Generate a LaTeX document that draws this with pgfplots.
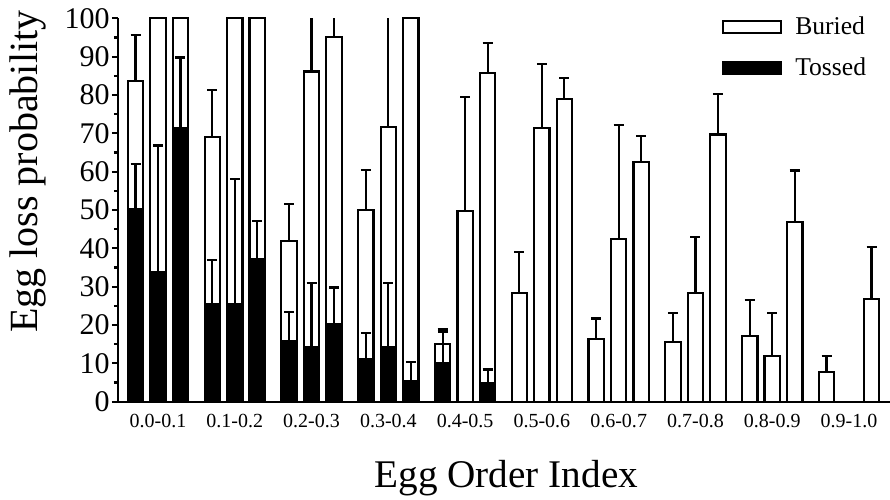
\documentclass[border=0pt]{standalone}
\usepackage{fontspec}
\setmainfont{Liberation Serif}
\usepackage{pgfplots}
\pgfplotsset{compat=1.18}
\usepackage{pgfplotstable}

\pgfplotsset{boxlegend/.style={legend image code/.code={\draw[##1] (0pt,-3pt) rectangle (29pt,3pt);}}}

% totals (buried + tossed), with upper error
\pgfplotstableread{
x y ep
-0.293 83.7 11.9
0.707 69.1 12.2
1.707 42.0 9.6
2.707 50.0 10.4
3.707 15.0 3.9
4.0 49.8 29.6
4.293 85.8 7.7
4.707 28.4 10.7
5.0 71.4 16.7
5.293 79.0 5.5
5.707 16.3 5.4
6.0 42.5 29.7
6.293 62.6 6.8
6.707 15.5 7.6
7.0 28.3 14.6
7.293 69.7 10.6
7.707 17.2 9.3
8.0 12.0 11.1
8.293 46.8 13.5
8.707 7.7 4.2
9.293 26.7 13.7
}\totals

% totals whose error runs off the top (no cap)
\pgfplotstableread{
x y ep
0.0 100 0
0.293 100 0
1.0 100 0
1.293 100 0
2.0 86.1 13.9
2.293 95.2 4.8
3.0 71.6 28.4
3.293 100 0
}\totalstop

% tossed
\pgfplotstableread{
x y ep
-0.293 50.3 11.6
0.0 33.7 33.1
0.293 71.3 18.5
0.707 25.5 11.5
1.0 25.5 32.6
1.293 37.2 10.0
1.707 15.9 7.4
2.0 14.3 16.7
2.293 20.3 9.5
2.707 11.1 6.9
3.0 14.3 16.7
3.293 5.5 4.8
3.707 10.0 8.3
4.293 4.8 3.6
}\tossed

\begin{document}
\begin{tikzpicture}
\begin{axis}[
  scale only axis, width=386pt, height=191.7pt,
  xmin=-0.521, xmax=9.534, ymin=0, ymax=100,
  axis x line=bottom, axis y line=left,
  axis line style={-, line width=1.1pt, black},
  clip=false,
  ytick={0,10,...,100}, minor y tick num=1,
  tick align=outside, major tick length=3pt, minor tick length=2pt,
  every tick/.style={line width=1.1pt, black},
  xtick={0,...,9},
  xticklabels={0.0-0.1,0.1-0.2,0.2-0.3,0.3-0.4,0.4-0.5,0.5-0.6,0.6-0.7,0.7-0.8,0.8-0.9,0.9-1.0},
  x tick style={draw=none},
  /pgf/number format/assume math mode=true,
  yticklabel style={font=\fontsize{15}{15}\selectfont, inner sep=1pt},
  xticklabel style={font=\fontsize{10}{10}\selectfont, yshift=0.5pt},
  ylabel={Egg loss probability},
  xlabel={Egg Order Index},
  ylabel style={at={(axis description cs:-0.1166,0.6)}, anchor=center, font=\fontsize{20}{20}\selectfont},
  xlabel style={at={(axis description cs:0.503,-0.2)}, anchor=center, font=\fontsize{19.6}{20}\selectfont},
  legend style={draw=none, fill=none, at={(axis description cs:0.782,1.011)}, anchor=north west,
    font=\fontsize{12.8}{15}\selectfont, row sep=8pt, inner sep=0pt, legend cell align=left,
    nodes={inner sep=1pt}, /tikz/every odd column/.append style={column sep=5.5pt}},
  legend image post style={xshift=-2pt},
  error bars/y dir=plus, error bars/y explicit,
  error bars/error bar style={line width=1.1pt, black},
  error bars/error mark options={rotate=90, line width=1.1pt, black, mark size=2.5pt},
]
\addplot[ybar, bar shift=0pt, bar width=0.2, fill=white, draw=black, line width=1.1pt, boxlegend]
  table[x=x, y=y, y error=ep] {\totals};
\addlegendentry{Buried}
\addplot[ybar, bar shift=0pt, bar width=0.2, fill=white, draw=black, line width=1.1pt,
  forget plot, error bars/error mark=none]
  table[x=x, y=y, y error=ep] {\totalstop};
\addplot[ybar, bar shift=0pt, bar width=0.2, fill=black, draw=black, line width=1.1pt, boxlegend]
  table[x=x, y=y, y error=ep] {\tossed};
\addlegendentry{Tossed}
\end{axis}
\pgfresetboundingbox
\path[use as bounding box] ([xshift=-59pt,yshift=-48.65pt]current axis.south west) rectangle ([yshift=9.15pt]current axis.north east);
\end{tikzpicture}
\end{document}
